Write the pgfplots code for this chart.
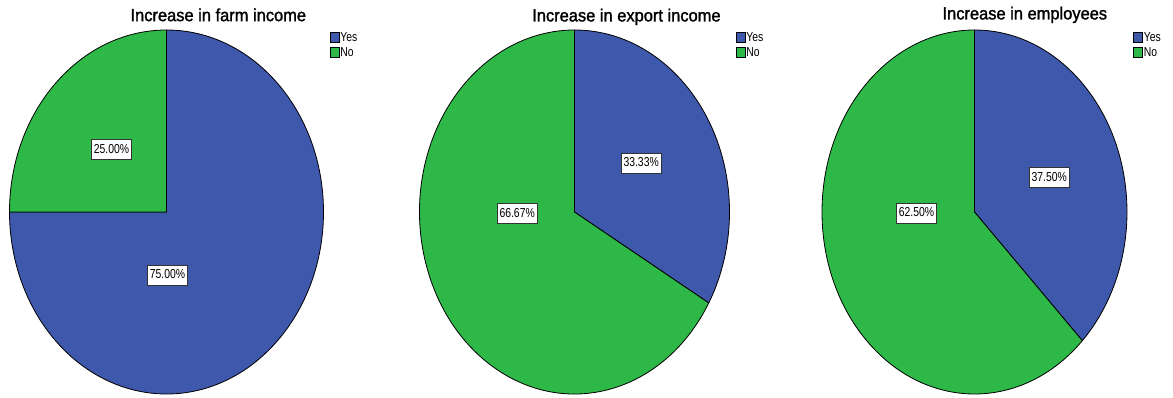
\documentclass[border=0pt]{standalone}
\usepackage{fontspec}
\setmainfont{Liberation Sans}
\newfontfamily\ttlfont{Liberation Sans}[FakeBold=1.6]
\usepackage{pgfplots}
\usepackage{pgfplotstable}
\pgfplotsset{compat=1.18}
\definecolor{pieblue}{RGB}{62,88,172}
\definecolor{piegreen}{RGB}{46,184,72}

\pgfplotstableread{
label value
Yes 75.00
No 25.00
}\farm
\pgfplotstableread{
label value
Yes 33.33
No 66.67
}\export
\pgfplotstableread{
label value
Yes 37.50
No 62.50
}\employ

\newcommand{\lab}[1]{\scalebox{0.8}[1]{#1}}
\pgfplotsset{
  pieaxis/.style={
    scale only axis, hide axis, clip=false,
    xmin=-1, xmax=1, ymin=-1, ymax=1,
    anchor=center,
    legend image code/.code={\draw[##1] (0pt,-4.5pt) rectangle (9pt,5pt);},
    legend style={at={(1,1)}, anchor=north west, xshift=6pt, yshift=-1pt,
      draw=none, fill=none, inner sep=0pt, row sep=2pt,
      font=\fontsize{13}{14}\selectfont,
      nodes={inner xsep=1pt, inner ysep=0.5pt, text height=9.5pt, text depth=2.5pt},
      cells={anchor=west}},
  },
}
\tikzset{
  lbl/.style={draw=black!80, fill=white, line width=0.7pt, inner xsep=2.5pt,
    inner ysep=0pt, minimum height=20pt, text height=10pt, text depth=2pt,
    font=\fontsize{13}{14}\selectfont},
  ttl/.style={font=\ttlfont\fontsize{17.5}{19}\selectfont, anchor=center},
}

\begin{document}
\begin{tikzpicture}
\path[use as bounding box] (0,0) rectangle (1173pt,397pt);
\pgfplotstablegetelem{0}{value}\of\farm \pgfmathsetmacro\angA{90-3.6*\pgfplotsretval}
\pgfplotstablegetelem{0}{value}\of\export \pgfmathsetmacro\angB{90-3.6*\pgfplotsretval}
\pgfplotstablegetelem{0}{value}\of\employ \pgfmathsetmacro\angC{90-3.6*\pgfplotsretval}

% Pie 1
\begin{axis}[pieaxis, at={(166.5pt,185pt)}, width=314pt, height=364pt]
\addlegendimage{fill=pieblue, draw=black, line width=0.6pt}
\addlegendentry{\lab{Yes}}
\addlegendimage{fill=piegreen, draw=black, line width=0.6pt}
\addlegendentry{\lab{No}}
\filldraw[fill=pieblue, draw=black, line width=0.8pt] (axis cs:0,0) -- (axis cs:0,1)
  arc[start angle=90, end angle=\angA, x radius=157pt, y radius=182pt] -- cycle;
\filldraw[fill=piegreen, draw=black, line width=0.8pt] (axis cs:0,0) -- (axis cs:{cos(\angA)},{sin(\angA)})
  arc[start angle=\angA, end angle=-270, x radius=157pt, y radius=182pt] -- cycle;
\node[lbl] at (axis cs:-0.35,0.346) {\lab{25.00\%}};
\node[lbl] at (axis cs:0.006,-0.346) {\lab{75.00\%}};
\node[ttl] at (axis cs:0.33,1.083) {\scalebox{0.94}[1]{Increase in farm income}};
\end{axis}

% Pie 2
\begin{axis}[pieaxis, at={(574.5pt,185pt)}, width=310pt, height=364pt]
\addlegendimage{fill=pieblue, draw=black, line width=0.6pt}
\addlegendentry{\lab{Yes}}
\addlegendimage{fill=piegreen, draw=black, line width=0.6pt}
\addlegendentry{\lab{No}}
\filldraw[fill=pieblue, draw=black, line width=0.8pt] (axis cs:0,0) -- (axis cs:0,1)
  arc[start angle=90, end angle=\angB, x radius=155pt, y radius=182pt] -- cycle;
\filldraw[fill=piegreen, draw=black, line width=0.8pt] (axis cs:0,0) -- (axis cs:{cos(\angB)},{sin(\angB)})
  arc[start angle=\angB, end angle=-270, x radius=155pt, y radius=182pt] -- cycle;
\node[lbl] at (axis cs:0.43,0.27) {\lab{33.33\%}};
\node[lbl] at (axis cs:-0.37,-0.01) {\lab{66.67\%}};
\node[ttl] at (axis cs:0.335,1.072) {\scalebox{0.94}[1]{Increase in export income}};
\end{axis}

% Pie 3
\begin{axis}[pieaxis, at={(974.5pt,185pt)}, width=305pt, height=364pt]
\addlegendimage{fill=pieblue, draw=black, line width=0.6pt}
\addlegendentry{\lab{Yes}}
\addlegendimage{fill=piegreen, draw=black, line width=0.6pt}
\addlegendentry{\lab{No}}
\filldraw[fill=pieblue, draw=black, line width=0.8pt] (axis cs:0,0) -- (axis cs:0,1)
  arc[start angle=90, end angle=\angC, x radius=152.5pt, y radius=182pt] -- cycle;
\filldraw[fill=piegreen, draw=black, line width=0.8pt] (axis cs:0,0) -- (axis cs:{cos(\angC)},{sin(\angC)})
  arc[start angle=\angC, end angle=-270, x radius=152.5pt, y radius=182pt] -- cycle;
\node[lbl] at (axis cs:0.49,0.19) {\lab{37.50\%}};
\node[lbl] at (axis cs:-0.38,-0.005) {\lab{62.50\%}};
\node[ttl] at (axis cs:0.33,1.083) {\scalebox{0.94}[1]{Increase in employees}};
\end{axis}
\end{tikzpicture}
\end{document}
